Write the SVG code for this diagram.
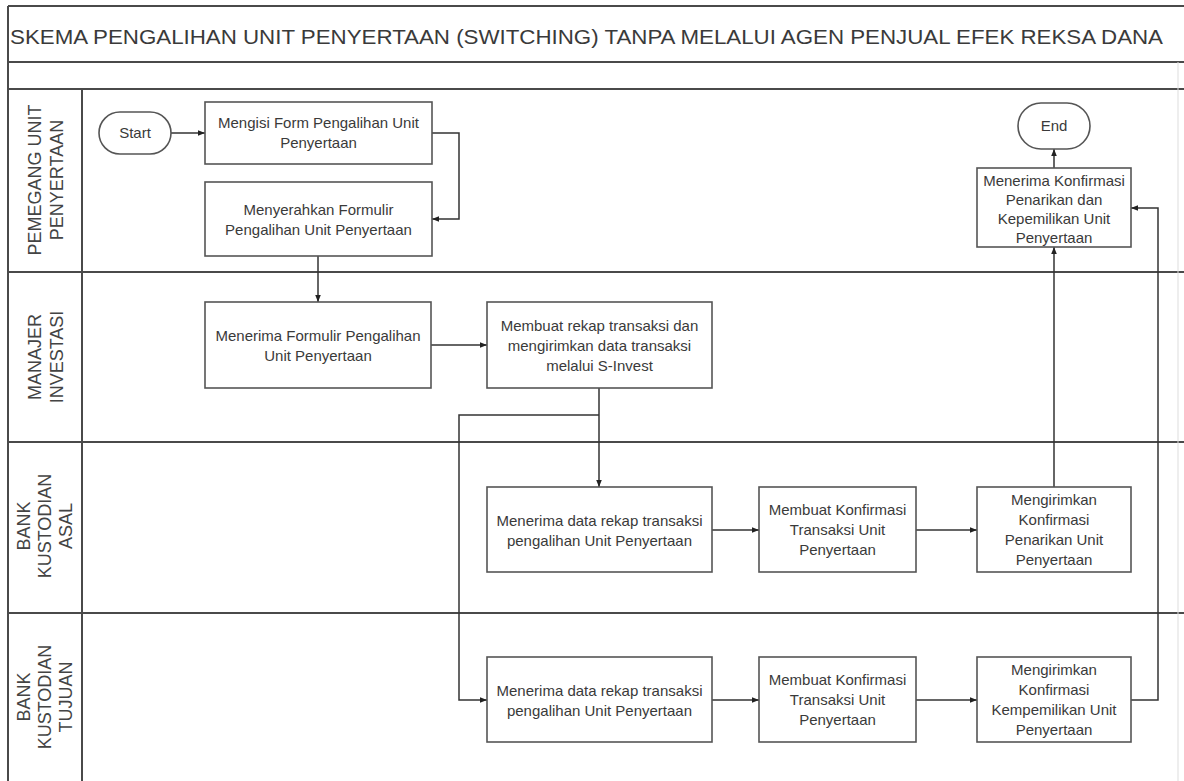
<svg xmlns="http://www.w3.org/2000/svg" width="1184" height="781" viewBox="0 0 1184 781">
<defs>
<marker id="ah" viewBox="0 0 10 10" refX="10" refY="5" markerWidth="7" markerHeight="7" orient="auto" markerUnits="userSpaceOnUse">
<path d="M0,1 L10,5 L0,9 z" fill="#222"/>
</marker>
</defs>
<style>
.frame{fill:none;stroke:#4a4a4a;stroke-width:2}
.box{fill:#fff;stroke:#555;stroke-width:1.6}
.t{font-family:Arial,"Liberation Sans",Helvetica,sans-serif;font-size:15px;fill:#3a3a3a;text-anchor:middle}
.lane{font-family:Arial,"Liberation Sans",Helvetica,sans-serif;font-size:18px;fill:#444;text-anchor:middle}
.title{font-family:Arial,"Liberation Sans",Helvetica,sans-serif;font-size:21px;fill:#3a3a3a}
.c{fill:none;stroke:#333;stroke-width:1.5;marker-end:url(#ah)}
</style>
<rect width="1184" height="781" fill="#fff"/>
<g id="frame">
<line class="frame" x1="8" y1="6" x2="1184" y2="6"/>
<line class="frame" x1="8" y1="6" x2="8" y2="781"/>
<line class="frame" x1="8" y1="62" x2="1184" y2="62"/>
<line class="frame" x1="8" y1="89" x2="1184" y2="89"/>
<line class="frame" x1="8" y1="272" x2="1184" y2="272"/>
<line class="frame" x1="8" y1="442" x2="1184" y2="442"/>
<line class="frame" x1="8" y1="613" x2="1184" y2="613"/>
<line class="frame" x1="82" y1="89" x2="82" y2="781"/>
<line x1="1178" y1="62" x2="1178" y2="781" stroke="#ddd" stroke-width="1"/>
</g>
<text class="title" x="10" y="44" textLength="1153" lengthAdjust="spacingAndGlyphs">SKEMA PENGALIHAN UNIT PENYERTAAN (SWITCHING) TANPA MELALUI AGEN PENJUAL EFEK REKSA DANA</text>
<g id="lane-labels">
<text class="lane" transform="translate(46,180) rotate(-90)"><tspan x="0" y="-5">PEMEGANG UNIT</tspan><tspan x="0" y="17">PENYERTAAN</tspan></text>
<text class="lane" transform="translate(46,357) rotate(-90)"><tspan x="0" y="-5">MANAJER</tspan><tspan x="0" y="17">INVESTASI</tspan></text>
<text class="lane" transform="translate(45,526) rotate(-90)"><tspan x="0" y="-15">BANK</tspan><tspan x="0" y="6">KUSTODIAN</tspan><tspan x="0" y="27">ASAL</tspan></text>
<text class="lane" transform="translate(45,697) rotate(-90)"><tspan x="0" y="-15">BANK</tspan><tspan x="0" y="6">KUSTODIAN</tspan><tspan x="0" y="27">TUJUAN</tspan></text>
</g>
<g id="connectors">
<path class="c" d="M171,133 H205"/>
<path class="c" d="M432,133 H459 V219 H432"/>
<path class="c" d="M318,256 V302"/>
<path class="c" d="M431,345 H487"/>
<path class="c" d="M599,388 V487"/>
<path class="c" d="M599,415 H459 V700 H487"/>
<path class="c" d="M712,530 H759"/>
<path class="c" d="M916,530 H977"/>
<path class="c" d="M1054,487 V247"/>
<path class="c" d="M1054,168 V149"/>
<path class="c" d="M712,700 H759"/>
<path class="c" d="M916,700 H977"/>
<path class="c" d="M1131,700 H1158 V208 H1131"/>
</g>
<g id="start"><rect class="box" x="99" y="112" width="72" height="42" rx="21"/><text class="t" x="135" y="138">Start</text></g>
<g id="end"><rect class="box" x="1018" y="103" width="72" height="46" rx="23"/><text class="t" x="1054" y="131">End</text></g>
<g id="n1"><rect class="box" x="205" y="102" width="227" height="62"/><text class="t"><tspan x="318.5" y="128">Mengisi Form Pengalihan Unit</tspan><tspan x="318.5" y="148">Penyertaan</tspan></text></g>
<g id="n2"><rect class="box" x="205" y="182" width="227" height="74"/><text class="t"><tspan x="318.5" y="215">Menyerahkan Formulir</tspan><tspan x="318.5" y="235">Pengalihan Unit Penyertaan</tspan></text></g>
<g id="n3"><rect class="box" x="205" y="302" width="226" height="86"/><text class="t"><tspan x="318" y="341">Menerima Formulir Pengalihan</tspan><tspan x="318" y="361">Unit Penyertaan</tspan></text></g>
<g id="n4"><rect class="box" x="487" y="302" width="225" height="86"/><text class="t"><tspan x="599.5" y="331">Membuat rekap transaksi dan</tspan><tspan x="599.5" y="351">mengirimkan data transaksi</tspan><tspan x="599.5" y="371">melalui S-Invest</tspan></text></g>
<g id="n5"><rect class="box" x="487" y="487" width="225" height="85"/><text class="t"><tspan x="599.5" y="526">Menerima data rekap transaksi</tspan><tspan x="599.5" y="546">pengalihan Unit Penyertaan</tspan></text></g>
<g id="n6"><rect class="box" x="759" y="487" width="157" height="85"/><text class="t"><tspan x="837.5" y="515">Membuat Konfirmasi</tspan><tspan x="837.5" y="535">Transaksi Unit</tspan><tspan x="837.5" y="555">Penyertaan</tspan></text></g>
<g id="n7"><rect class="box" x="977" y="487" width="154" height="85"/><text class="t"><tspan x="1054" y="505">Mengirimkan</tspan><tspan x="1054" y="525">Konfirmasi</tspan><tspan x="1054" y="545">Penarikan Unit</tspan><tspan x="1054" y="565">Penyertaan</tspan></text></g>
<g id="n8"><rect class="box" x="487" y="657" width="225" height="85"/><text class="t"><tspan x="599.5" y="696">Menerima data rekap transaksi</tspan><tspan x="599.5" y="716">pengalihan Unit Penyertaan</tspan></text></g>
<g id="n9"><rect class="box" x="759" y="657" width="157" height="85"/><text class="t"><tspan x="837.5" y="685">Membuat Konfirmasi</tspan><tspan x="837.5" y="705">Transaksi Unit</tspan><tspan x="837.5" y="725">Penyertaan</tspan></text></g>
<g id="n10"><rect class="box" x="977" y="657" width="154" height="85"/><text class="t"><tspan x="1054" y="675">Mengirimkan</tspan><tspan x="1054" y="695">Konfirmasi</tspan><tspan x="1054" y="715">Kempemilikan Unit</tspan><tspan x="1054" y="735">Penyertaan</tspan></text></g>
<g id="n11"><rect class="box" x="977" y="168" width="154" height="79"/><text class="t"><tspan x="1054" y="186">Menerima Konfirmasi</tspan><tspan x="1054" y="205">Penarikan dan</tspan><tspan x="1054" y="224">Kepemilikan Unit</tspan><tspan x="1054" y="243">Penyertaan</tspan></text></g>
</svg>
